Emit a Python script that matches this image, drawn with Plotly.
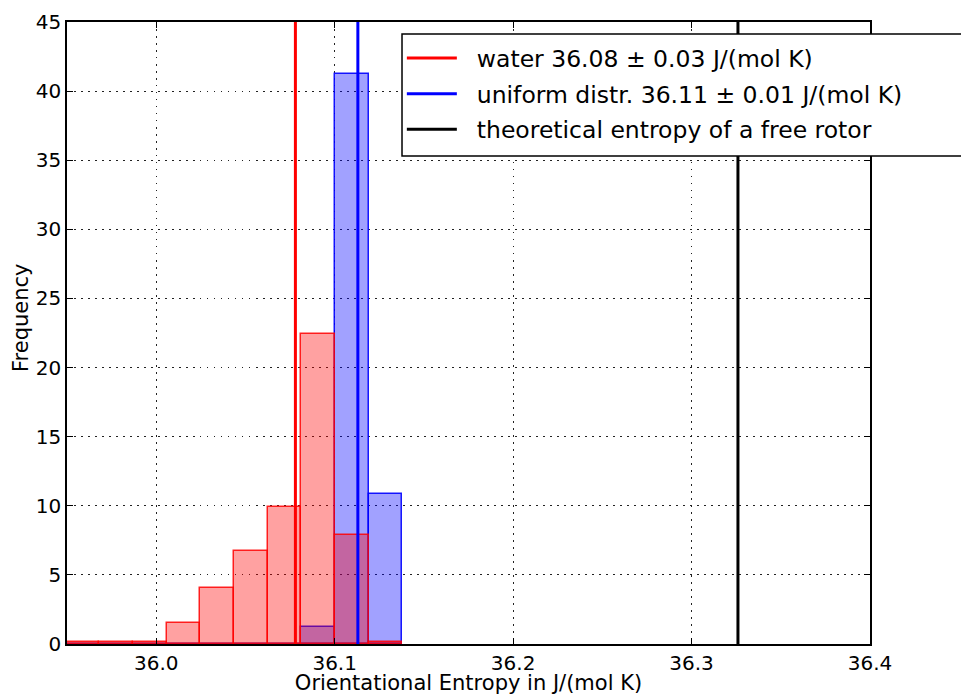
import numpy as np
import plotly.graph_objects as go

# Histogram bin edges (J/(mol K))
bin_edges = [35.9494, 35.9682, 35.9869, 36.0058, 36.0247, 36.0438, 36.0625,
             36.0813, 36.1000, 36.1191, 36.1379]
# Frequencies per bin
water_freq = [0.12, 0.12, 0.12, 1.5, 4.03, 6.73, 9.93, 22.45, 7.9, 0.17]
uniform_freq = [0.0, 0.0, 0.0, 0.0, 0.0, 0.0, 0.0, 1.25, 41.25, 10.85]

# Reference values (vertical lines)
water_mean = 36.078
uniform_mean = 36.113
free_rotor = 36.326

legend_labels = ["water 36.08 \u00b1 0.03 J/(mol K)",
                 "uniform distr. 36.11 \u00b1 0.01 J/(mol K)",
                 "theoretical entropy of a free rotor"]

x_ticks = [36.0, 36.1, 36.2, 36.3, 36.4]
x_ticktext = ["36.0", "36.1", "36.2", "36.3", "36.4"]
y_ticks = [0, 5, 10, 15, 20, 25, 30, 35, 40, 45]

edges = np.array(bin_edges)
centers = (edges[:-1] + edges[1:]) / 2
widths = edges[1:] - edges[:-1]

fig = go.Figure()

fig.add_trace(go.Bar(x=centers, y=uniform_freq, width=widths,
                     marker=dict(color="rgba(0,0,255,0.37)",
                                 line=dict(color="rgba(0,0,255,0.9)", width=1.5)),
                     showlegend=False, hoverinfo="skip"))
fig.add_trace(go.Bar(x=centers, y=water_freq, width=widths,
                     marker=dict(color="rgba(255,0,0,0.37)",
                                 line=dict(color="rgba(255,0,0,0.85)", width=1.5)),
                     showlegend=False, hoverinfo="skip"))

for i, (val, col, grp) in enumerate([(water_mean, "#ff0000", "a"),
                                     (uniform_mean, "#0000ff", "b"),
                                     (free_rotor, "#000000", "c")]):
    fig.add_trace(go.Scatter(x=[val, val], y=[0, 45], mode="lines",
                             line=dict(color=col, width=3),
                             name="\u00a0\u00a0" + legend_labels[i],
                             legendgroup=grp))

grid_dash = "1.5px,5.5px"

# legend frame (paper coordinates); right side runs past the page edge
lx0, lx1, ly0, ly1 = 0.4172, 1.2, 0.7846, 0.9807

fig.update_layout(
    width=961, height=687,
    margin=dict(l=59, r=99, t=14, b=51),
    paper_bgcolor="white", plot_bgcolor="white",
    barmode="overlay", bargap=0,
    font=dict(family="DejaVu Sans", size=20, color="black"),
    showlegend=True,
    legend=dict(x=0.417, y=0.977, xanchor="left", yanchor="top",
                bgcolor="rgba(0,0,0,0)", borderwidth=0,
                font=dict(size=23.5), traceorder="grouped", tracegroupgap=2,
                itemwidth=50),
    xaxis=dict(range=[35.95, 36.4], tickvals=x_ticks, ticktext=x_ticktext,
               showgrid=True, gridcolor="#222222", griddash=grid_dash, gridwidth=1,
               showline=True, linecolor="black", linewidth=1.5, mirror="ticks",
               ticks="inside", ticklen=6, tickcolor="black", zeroline=False,
               title=dict(text="Orientational Entropy in J/(mol K)",
                          font=dict(size=21), standoff=6),
               automargin=False),
    yaxis=dict(range=[0, 45], tickvals=y_ticks,
               showgrid=True, gridcolor="#222222", griddash=grid_dash, gridwidth=1,
               showline=True, linecolor="black", linewidth=1.5, mirror="ticks",
               ticks="inside", ticklen=6, tickcolor="black", zeroline=False,
               automargin=False),
    annotations=[dict(text="Frequency", textangle=-90, xref="paper", yref="paper",
                      x=-0.0573, y=0.5257, xanchor="center", yanchor="middle",
                      showarrow=False, font=dict(size=21))],
    shapes=[
        dict(type="rect", xref="paper", yref="paper",
             x0=lx0, x1=lx1, y0=ly0, y1=ly1,
             fillcolor="white", line=dict(width=0), layer="above"),
        dict(type="path", xref="paper", yref="paper",
             path=f"M {lx1},{ly1} L {lx0},{ly1} L {lx0},{ly0} L {lx1},{ly0}",
             line=dict(color="black", width=1.5), layer="above"),
    ],
)

fig.write_html("out.html")
